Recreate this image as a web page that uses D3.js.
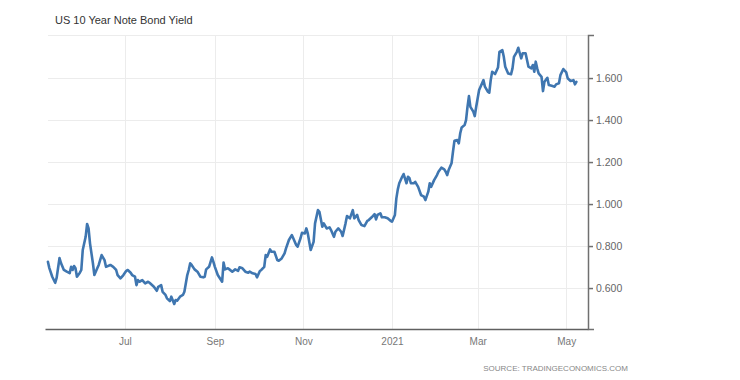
<!DOCTYPE html>
<head>
  <meta charset="utf-8" />
  <script src="https://d3js.org/d3.v7.min.js"></script>
  <style>
    body {
      margin: 0;
      background: #fff;
      font-family: "Liberation Sans", Arial, sans-serif;
    }
    .grid line {
      stroke: #ececec;
      stroke-width: 1px;
    }
    .yaxis path, .yaxis line {
      stroke: #707070;
      stroke-width: 1.5px;
    }
    .yaxis text {
      fill: #666;
      font-size: 10.5px;
    }
    .xaxis path {
      stroke: #606060;
      stroke-width: 1.5px;
    }
    .xaxis line {
      display: none;
    }
    .xaxis text {
      fill: #777;
      font-size: 10px;
    }
  </style>
</head>

<body>
  <script>
    // yield readings
    var dates = [
      "2020-05-09","2020-05-10","2020-05-12","2020-05-14","2020-05-15","2020-05-17","2020-05-18","2020-05-20","2020-05-22","2020-05-24",
      "2020-05-25","2020-05-26","2020-05-27","2020-05-28","2020-05-29","2020-05-31","2020-06-01","2020-06-02","2020-06-04","2020-06-05",
      "2020-06-06","2020-06-07","2020-06-09","2020-06-10","2020-06-12","2020-06-13","2020-06-15","2020-06-17","2020-06-18","2020-06-21",
      "2020-06-23","2020-06-25","2020-06-26","2020-06-28","2020-06-30","2020-07-02","2020-07-03","2020-07-05","2020-07-06","2020-07-08",
      "2020-07-09","2020-07-10","2020-07-11","2020-07-13","2020-07-15","2020-07-17","2020-07-18","2020-07-21","2020-07-23","2020-07-24",
      "2020-07-26","2020-07-27","2020-07-29","2020-07-30","2020-08-01","2020-08-02","2020-08-04","2020-08-05","2020-08-06","2020-08-08",
      "2020-08-10","2020-08-11","2020-08-13","2020-08-14","2020-08-15","2020-08-16","2020-08-18","2020-08-20","2020-08-22","2020-08-24",
      "2020-08-25","2020-08-26","2020-08-28","2020-08-30","2020-08-31","2020-09-01","2020-09-03","2020-09-05","2020-09-06","2020-09-07",
      "2020-09-08","2020-09-10","2020-09-11","2020-09-13","2020-09-15","2020-09-17","2020-09-18","2020-09-20","2020-09-22","2020-09-24",
      "2020-09-25","2020-09-27","2020-09-29","2020-09-30","2020-10-02","2020-10-03","2020-10-05","2020-10-06","2020-10-07","2020-10-09",
      "2020-10-10","2020-10-12","2020-10-14","2020-10-15","2020-10-17","2020-10-19","2020-10-20","2020-10-22","2020-10-24","2020-10-25",
      "2020-10-27","2020-10-28","2020-10-30","2020-10-31","2020-11-02","2020-11-03","2020-11-04","2020-11-06","2020-11-08","2020-11-09",
      "2020-11-11","2020-11-12","2020-11-14","2020-11-15","2020-11-17","2020-11-19","2020-11-20","2020-11-22","2020-11-23","2020-11-25",
      "2020-11-27","2020-11-28","2020-11-30","2020-12-01","2020-12-03","2020-12-05","2020-12-06","2020-12-08","2020-12-09","2020-12-11",
      "2020-12-13","2020-12-15","2020-12-16","2020-12-18","2020-12-20","2020-12-21","2020-12-22","2020-12-24","2020-12-25","2020-12-27",
      "2020-12-29","2020-12-31","2021-01-01","2021-01-03","2021-01-04","2021-01-05","2021-01-06","2021-01-08","2021-01-09","2021-01-11",
      "2021-01-12","2021-01-13","2021-01-14","2021-01-16","2021-01-17","2021-01-19","2021-01-21","2021-01-23","2021-01-24","2021-01-26",
      "2021-01-27","2021-01-28","2021-01-30","2021-02-01","2021-02-02","2021-02-04","2021-02-06","2021-02-07","2021-02-08","2021-02-09",
      "2021-02-11","2021-02-12","2021-02-13","2021-02-15","2021-02-16","2021-02-17","2021-02-18","2021-02-20","2021-02-21","2021-02-22",
      "2021-02-23","2021-02-24","2021-02-26","2021-02-27","2021-02-28","2021-03-02","2021-03-03","2021-03-05","2021-03-06","2021-03-08",
      "2021-03-09","2021-03-10","2021-03-11","2021-03-13","2021-03-15","2021-03-16","2021-03-18","2021-03-19","2021-03-20","2021-03-22",
      "2021-03-24","2021-03-25","2021-03-26","2021-03-28","2021-03-29","2021-03-30","2021-03-31","2021-04-01","2021-04-03","2021-04-04",
      "2021-04-05","2021-04-07","2021-04-08","2021-04-09","2021-04-10","2021-04-11","2021-04-12","2021-04-14","2021-04-15","2021-04-16",
      "2021-04-18","2021-04-19","2021-04-21","2021-04-23","2021-04-24","2021-04-26","2021-04-27","2021-04-29","2021-05-01","2021-05-02",
      "2021-05-04","2021-05-06","2021-05-07","2021-05-08"
    ];
    var yields = [
      0.725,0.695,0.654,0.625,0.648,0.743,0.719,0.686,0.678,0.671,
      0.701,0.686,0.705,0.694,0.654,0.673,0.686,0.781,0.844,0.905,
      0.884,0.813,0.718,0.662,0.694,0.710,0.757,0.733,0.701,0.710,
      0.701,0.686,0.662,0.646,0.662,0.682,0.686,0.673,0.662,0.654,
      0.614,0.638,0.630,0.638,0.622,0.630,0.625,0.606,0.587,0.606,
      0.614,0.582,0.567,0.551,0.538,0.559,0.524,0.543,0.540,0.559,
      0.567,0.582,0.662,0.686,0.718,0.710,0.689,0.678,0.654,0.651,
      0.654,0.689,0.701,0.746,0.725,0.701,0.662,0.641,0.630,0.722,
      0.689,0.694,0.689,0.678,0.689,0.682,0.699,0.694,0.678,0.673,
      0.678,0.670,0.667,0.651,0.681,0.686,0.701,0.757,0.749,0.784,
      0.773,0.773,0.733,0.730,0.741,0.765,0.789,0.829,0.852,0.837,
      0.805,0.797,0.837,0.863,0.860,0.884,0.860,0.781,0.820,0.908,
      0.971,0.963,0.892,0.908,0.884,0.889,0.876,0.844,0.868,0.884,
      0.868,0.848,0.908,0.943,0.932,0.971,0.932,0.948,0.924,0.900,
      0.895,0.920,0.924,0.937,0.952,0.927,0.948,0.956,0.937,0.937,
      0.932,0.920,0.916,0.948,1.027,1.070,1.099,1.130,1.143,1.099,
      1.130,1.124,1.099,1.099,1.106,1.082,1.043,1.035,1.019,1.059,
      1.099,1.082,1.114,1.138,1.154,1.173,1.165,1.154,1.138,1.162,
      1.194,1.249,1.301,1.305,1.289,1.337,1.365,1.376,1.400,1.463,
      1.514,1.463,1.440,1.419,1.463,1.543,1.559,1.590,1.559,1.535,
      1.530,1.590,1.630,1.619,1.650,1.725,1.733,1.701,1.654,1.622,
      1.618,1.646,1.701,1.725,1.744,1.718,1.694,1.718,1.718,1.686,
      1.654,1.646,1.662,1.630,1.678,1.646,1.622,1.606,1.538,1.582,
      1.601,1.567,1.563,1.559,1.570,1.575,1.614,1.643,1.627,1.599,
      1.586,1.590,1.570,1.582
    ];

    var xTickDates = ["2020-07-01","2020-09-01","2020-11-01","2021-01-01","2021-03-01","2021-05-01"];
    var xTickLabels = ["Jul","Sep","Nov","2021","Mar","May"];
    var yTicks = [0.6, 0.8, 1.0, 1.2, 1.4, 1.6];

    var width = 740,
      height = 380;
    // plot box (note: "top" is taken by window.top, so use own names)
    var plotLeft = 45, plotRight = 588, plotTop = 35, plotBottom = 329;

    var parse = d3.timeParse("%Y-%m-%d");
    var data = dates.map(function (d, i) {
      return { date: parse(d), value: yields[i] };
    });

    var svg = d3.select("body").append("svg")
      .attr("width", width)
      .attr("height", height);

    var x = d3.scaleTime()
      .domain([parse("2020-05-07"), parse("2021-05-16")])
      .range([plotLeft, plotRight]);

    var y = d3.scaleLinear()
      .domain([0.405, 1.805])
      .range([plotBottom, plotTop]);

    // title
    svg.append("text")
      .attr("x", 55)
      .attr("y", 24)
      .style("font-size", "11px")
      .style("fill", "#333")
      .text("US 10 Year Note Bond Yield");

    // grid
    var grid = svg.append("g").attr("class", "grid");
    grid.selectAll(".h")
      .data(yTicks.concat([1.805]))
      .join("line")
      .attr("class", "h")
      .attr("x1", plotLeft + 3)
      .attr("x2", plotRight)
      .attr("y1", function (d) { return Math.round(y(d)) + 0.5; })
      .attr("y2", function (d) { return Math.round(y(d)) + 0.5; });
    grid.selectAll(".v")
      .data(xTickDates.map(parse))
      .join("line")
      .attr("class", "v")
      .attr("x1", function (d) { return Math.round(x(d)) + 0.5; })
      .attr("x2", function (d) { return Math.round(x(d)) + 0.5; })
      .attr("y1", plotTop)
      .attr("y2", plotBottom);

    // x axis
    var xAxis = d3.axisBottom(x)
      .tickValues(xTickDates.map(parse))
      .tickFormat(function (d, i) { return xTickLabels[i]; })
      .tickSizeOuter(0)
      .tickPadding(3);
    svg.append("g")
      .attr("class", "xaxis")
      .attr("transform", "translate(0," + plotBottom + ")")
      .call(xAxis);

    // y axis on the right
    var yAxis = d3.axisRight(y)
      .tickValues(yTicks)
      .tickFormat(d3.format(".3f"))
      .tickSize(5)
      .tickSizeOuter(6)
      .tickPadding(3);
    svg.append("g")
      .attr("class", "yaxis")
      .attr("transform", "translate(" + plotRight + ",0)")
      .call(yAxis);

    // yield line
    var line = d3.line()
      .x(function (d) { return x(d.date); })
      .y(function (d) { return y(d.value); });

    svg.append("path")
      .datum(data)
      .attr("d", line)
      .attr("fill", "none")
      .attr("stroke", "#3f76b0")
      .attr("stroke-width", 2.6)
      .attr("stroke-linejoin", "round")
      .attr("stroke-linecap", "round");

    // source
    svg.append("text")
      .attr("x", 628)
      .attr("y", 371)
      .attr("text-anchor", "end")
      .style("font-size", "8px")
      .style("fill", "#888")
      .text("SOURCE: TRADINGECONOMICS.COM");
  </script>
</body>
